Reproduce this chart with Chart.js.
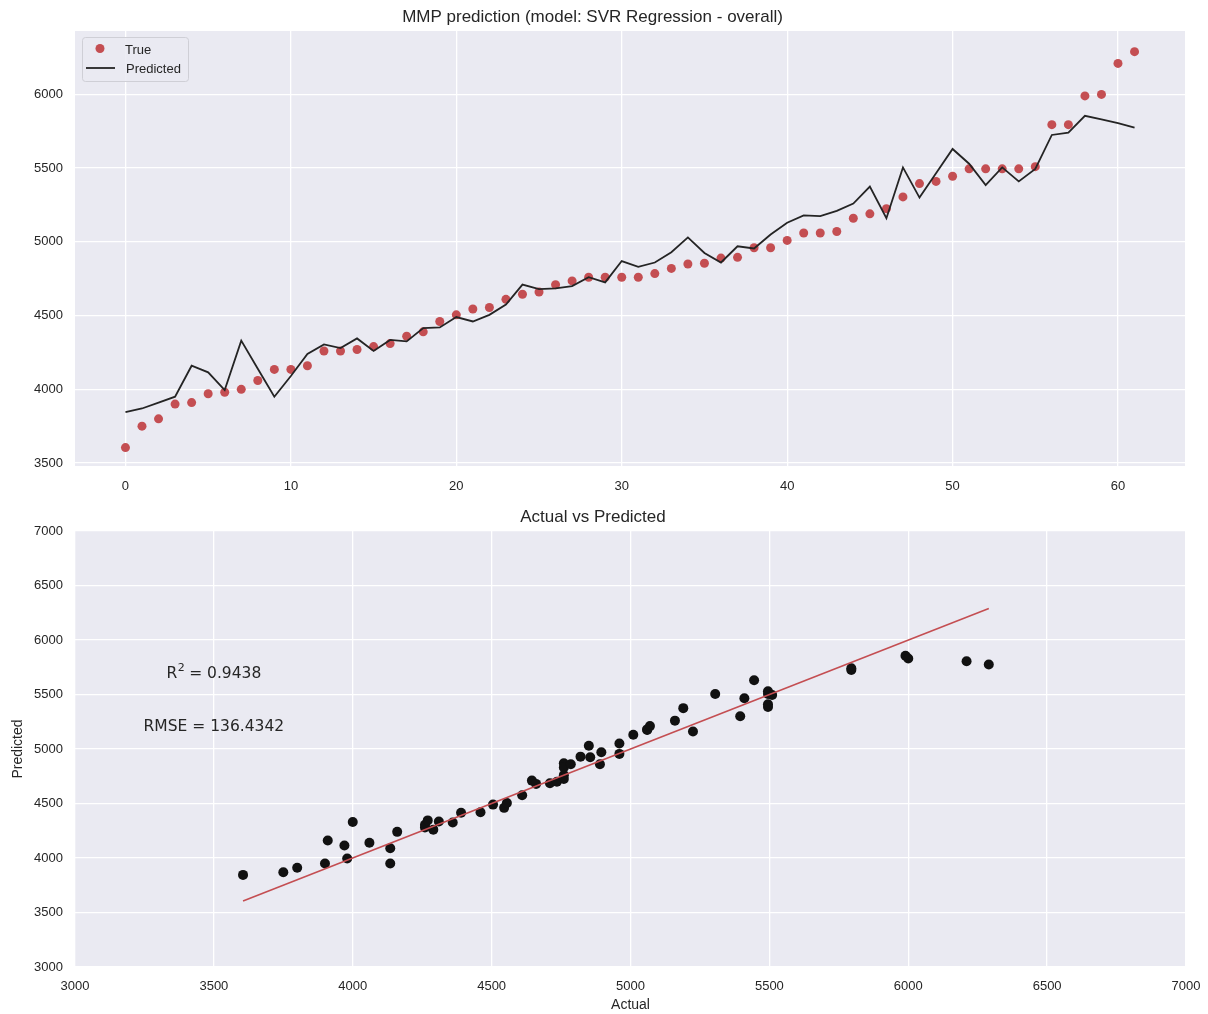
<!DOCTYPE html>
<html>
<head>
<meta charset="utf-8">
<script src="https://cdn.jsdelivr.net/npm/chart.js@4/dist/chart.umd.min.js"></script>
<style>
  body { margin: 0; background: #ffffff; }
  #top { position: absolute; left: 0; top: 0; }
  #bottom { position: absolute; left: 0; top: 496px; }
</style>
</head>
<body>
<canvas id="top" width="1208" height="496"></canvas>
<canvas id="bottom" width="1208" height="518"></canvas>
<script>
// True MMP values per sample
const trueVals = [3605, 3750, 3800, 3900, 3910, 3970, 3980, 4000, 4060, 4135,
  4135, 4160, 4260, 4260, 4270, 4290, 4310, 4360, 4390, 4460,
  4505, 4545, 4555, 4610, 4645, 4660, 4710, 4735, 4760, 4760,
  4760, 4760, 4785, 4820, 4850, 4855, 4890, 4895, 4960, 4960,
  5010, 5060, 5060, 5070, 5160, 5190, 5225, 5305, 5395, 5410,
  5445, 5495, 5495, 5495, 5495, 5510, 5795, 5795, 5990, 6000,
  6210, 6290];

// SVR predictions per sample
const predVals = [3845, 3870, 3910, 3950, 4160, 4115, 3995, 4330, 4140, 3950,
  4090, 4240, 4305, 4280, 4345, 4260, 4335, 4325, 4415, 4420,
  4490, 4460, 4505, 4575, 4710, 4680, 4685, 4700, 4760, 4725,
  4870, 4830, 4860, 4930, 5030, 4925, 4860, 4970, 4955, 5050,
  5130, 5180, 5175, 5210, 5260, 5375, 5160, 5505, 5300, 5465,
  5630, 5530, 5385, 5505, 5410, 5495, 5725, 5740, 5855, 5830,
  5805, 5775];

const topXTicks = [0, 10, 20, 30, 40, 50, 60];
const topYTicks = [3500, 4000, 4500, 5000, 5500, 6000];
const bottomTicks = [3000, 3500, 4000, 4500, 5000, 5500, 6000, 6500, 7000];

const r2Text = '0.9438';
const rmseText = '136.4342';

const FONT = "'Liberation Sans', Arial, sans-serif";
const TEXT = '#262626';
const BG = '#EAEAF2';
const RED = '#C44E52';

Chart.defaults.font.family = FONT;
Chart.defaults.color = TEXT;

// paint the seaborn style plot background
const plotBg = {
  id: 'plotBg',
  beforeDraw(chart) {
    const a = chart.chartArea, ctx = chart.ctx;
    ctx.save();
    ctx.fillStyle = BG;
    ctx.fillRect(a.left, a.top, a.right - a.left, a.bottom - a.top);
    ctx.restore();
  }
};

// legend box in the upper left corner of the top plot
const cornerLegend = {
  id: 'cornerLegend',
  afterDatasetsDraw(chart) {
    const a = chart.chartArea, ctx = chart.ctx;
    const x = a.left + 7, y = a.top + 6;
    ctx.save();
    ctx.fillStyle = 'rgba(234,234,242,0.85)';
    ctx.strokeStyle = '#cfcfd6';
    ctx.lineWidth = 1;
    ctx.beginPath();
    ctx.roundRect(x + 0.5, y + 0.5, 106, 44, 3);
    ctx.fill();
    ctx.stroke();
    const dsT = chart.data.datasets[0], dsP = chart.data.datasets[1];
    ctx.fillStyle = dsT.backgroundColor;
    ctx.beginPath();
    ctx.arc(x + 18, y + 11.5, 4.5, 0, Math.PI * 2);
    ctx.fill();
    ctx.strokeStyle = dsP.borderColor;
    ctx.lineWidth = dsP.borderWidth;
    ctx.beginPath();
    ctx.moveTo(x + 4, y + 31);
    ctx.lineTo(x + 33, y + 31);
    ctx.stroke();
    ctx.fillStyle = TEXT;
    ctx.font = '13px ' + FONT;
    ctx.textBaseline = 'middle';
    ctx.fillText(dsT.label, x + 43, y + 13);
    ctx.fillText(dsP.label, x + 44, y + 32);
    ctx.restore();
  }
};

// R^2 and RMSE text in data coordinates
const statsText = {
  id: 'statsText',
  afterDatasetsDraw(chart) {
    const ctx = chart.ctx, sx = chart.scales.x, sy = chart.scales.y;
    const cx = sx.getPixelForValue(3500);
    ctx.save();
    ctx.fillStyle = TEXT;
    ctx.textBaseline = 'middle';
    const big = "15.5px 'DejaVu Sans', sans-serif";
    const small = "11px 'DejaVu Sans', sans-serif";
    // R^2 line
    const y1 = sy.getPixelForValue(5690);
    ctx.font = big;
    const wR = ctx.measureText('R').width;
    const rest = ' = ' + r2Text;
    const wRest = ctx.measureText(rest).width;
    ctx.font = small;
    const w2 = ctx.measureText('2').width;
    const x0 = cx - (wR + w2 + wRest) / 2;
    ctx.font = big;
    ctx.fillText('R', x0, y1);
    ctx.font = small;
    ctx.fillText('2', x0 + wR + 0.5, y1 - 6);
    ctx.font = big;
    ctx.fillText(rest, x0 + wR + w2, y1);
    // RMSE line
    const y2 = sy.getPixelForValue(5200);
    ctx.textAlign = 'center';
    ctx.fillText('RMSE = ' + rmseText, cx, y2);
    ctx.restore();
  }
};

const gridOpts = { color: '#ffffff', lineWidth: 1.3, drawTicks: false };
const tickFont = { size: 13 };
const plain = v => String(v);

function fixedTicks(list) {
  return function (scale) {
    scale.ticks = list.map(v => ({ value: v }));
  };
}

function fitX(h) {
  return function (s) { s.height = h; s.paddingLeft = 0; s.paddingRight = 0; };
}
function fitY(w) {
  return function (s) { s.width = w; s.paddingTop = 0; s.paddingBottom = 0; };
}

// Top: true values as dots and predictions as a line over sample index
new Chart(document.getElementById('top'), {
  type: 'scatter',
  data: {
    datasets: [
      {
        label: 'True',
        data: trueVals.map((v, i) => ({ x: i, y: v })),
        backgroundColor: RED,
        borderWidth: 0,
        pointRadius: 4.5,
        showLine: false,
        order: 1
      },
      {
        label: 'Predicted',
        data: predVals.map((v, i) => ({ x: i, y: v })),
        borderColor: '#242424',
        borderWidth: 1.8,
        pointRadius: 0,
        showLine: true,
        order: 0
      }
    ]
  },
  options: {
    responsive: false,
    devicePixelRatio: 1,
    animation: false,
    layout: { padding: { left: 0, right: 23, top: 0, bottom: 0 } },
    plugins: {
      legend: { display: false },
      tooltip: { enabled: false },
      title: {
        display: true,
        text: 'MMP prediction (model: SVR Regression - overall)',
        color: TEXT,
        font: { size: 17, weight: 'normal' },
        padding: { top: 7, bottom: 3.6 }
      }
    },
    scales: {
      x: {
        type: 'linear',
        min: -3.05,
        max: 64.05,
        afterBuildTicks: fixedTicks(topXTicks),
        afterFit: fitX(30),
        grid: gridOpts,
        border: { display: false },
        ticks: { font: tickFont, padding: 13, callback: plain }
      },
      y: {
        min: 3480,
        max: 6430,
        afterBuildTicks: fixedTicks(topYTicks),
        afterFit: fitY(75),
        grid: gridOpts,
        border: { display: false },
        ticks: { font: tickFont, padding: 12, callback: plain }
      }
    }
  },
  plugins: [plotBg, cornerLegend]
});

// Bottom: actual vs predicted scatter with the identity line
const lo = Math.min(...trueVals), hi = Math.max(...trueVals);

new Chart(document.getElementById('bottom'), {
  type: 'scatter',
  data: {
    datasets: [
      {
        label: 'points',
        data: trueVals.map((v, i) => ({ x: v, y: predVals[i] })),
        backgroundColor: '#111111',
        borderWidth: 0,
        pointRadius: 5,
        order: 1
      },
      {
        label: 'identity',
        data: [{ x: lo, y: lo }, { x: hi, y: hi }],
        borderColor: RED,
        borderWidth: 1.6,
        pointRadius: 0,
        showLine: true,
        order: 0
      }
    ]
  },
  options: {
    responsive: false,
    devicePixelRatio: 1,
    animation: false,
    layout: { padding: { left: 0, right: 22, top: 0, bottom: 0 } },
    plugins: {
      legend: { display: false },
      tooltip: { enabled: false },
      title: {
        display: true,
        text: 'Actual vs Predicted',
        color: TEXT,
        font: { size: 17, weight: 'normal' },
        padding: { top: 11, bottom: 3.6 }
      }
    },
    scales: {
      x: {
        type: 'linear',
        min: 3000,
        max: 7000,
        afterBuildTicks: fixedTicks(bottomTicks),
        afterFit: fitX(47),
        grid: gridOpts,
        border: { display: false },
        ticks: { font: tickFont, padding: 12, callback: plain },
        title: { display: true, text: 'Actual', font: { size: 14 }, padding: { top: 0, bottom: 0 } }
      },
      y: {
        min: 3000,
        max: 7000,
        afterBuildTicks: fixedTicks(bottomTicks),
        afterFit: fitY(75),
        grid: gridOpts,
        border: { display: false },
        ticks: { font: tickFont, padding: 12, callback: plain },
        title: { display: true, text: 'Predicted', font: { size: 14 }, padding: { top: 10, bottom: 0 } }
      }
    }
  },
  plugins: [plotBg, statsText]
});
</script>
</body>
</html>
